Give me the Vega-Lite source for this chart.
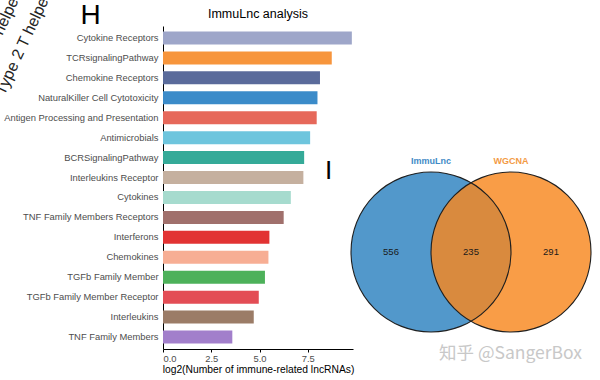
{
  "$schema": "https://vega.github.io/schema/vega-lite/v6.json",
  "width": 190,
  "height": 323,
  "autosize": {"type": "none"},
  "padding": {"left": 163, "top": 26, "right": 247, "bottom": 31},
  "background": "white",
  "config": {
    "view": {"stroke": null},
    "font": "Liberation Sans",
    "axis": {"labelFont": "Liberation Sans", "titleFont": "Liberation Sans"}
  },
  "title": {
    "text": "ImmuLnc analysis",
    "fontSize": 12.5,
    "fontWeight": "normal",
    "font": "Liberation Sans",
    "color": "black",
    "anchor": "middle",
    "frame": "group",
    "offset": -56
  },
  "datasets": {
    "bars": [
      {"category": "Cytokine Receptors", "value": 9.78},
      {"category": "TCRsignalingPathway", "value": 8.74},
      {"category": "Chemokine Receptors", "value": 8.13},
      {"category": "NaturalKiller Cell Cytotoxicity", "value": 8.0},
      {"category": "Antigen Processing and Presentation", "value": 7.96},
      {"category": "Antimicrobials", "value": 7.62},
      {"category": "BCRSignalingPathway", "value": 7.31},
      {"category": "Interleukins Receptor", "value": 7.27},
      {"category": "Cytokines", "value": 6.62},
      {"category": "TNF Family Members Receptors", "value": 6.25},
      {"category": "Interferons", "value": 5.51},
      {"category": "Chemokines", "value": 5.46},
      {"category": "TGFb Family Member", "value": 5.28},
      {"category": "TGFb Family Member Receptor", "value": 4.96},
      {"category": "Interleukins", "value": 4.7},
      {"category": "TNF Family Members", "value": 3.59}
    ],
    "sets": [
      {"set": "ImmuLnc", "size": 791},
      {"set": "WGCNA", "size": 526}
    ],
    "regions": [
      {"region": "ImmuLnc only", "count": 556},
      {"region": "Both", "count": 235},
      {"region": "WGCNA only", "count": 291}
    ],
    "fragments": [
      {"label": "Type 17 T helper cell"},
      {"label": "Type 2 T helper cell"}
    ]
  },
  "layer": [
    {
      "data": {"name": "bars"},
      "mark": {"type": "bar"},
      "encoding": {
        "y": {
          "field": "category",
          "type": "nominal",
          "sort": null,
          "scale": {"paddingInner": 0.35, "paddingOuter": 0.275},
          "axis": {
            "orient": "left",
            "domainColor": "black",
            "domainWidth": 1,
            "ticks": false,
            "labelFontSize": 9.4,
            "labelColor": "#4d4d4d",
            "labelPadding": 5,
            "labelLimit": 0,
            "grid": false,
            "title": "H",
            "titleAngle": 0,
            "titleX": -73,
            "titleY": -11,
            "titleAlign": "center",
            "titleBaseline": "middle",
            "titleFontSize": 28,
            "titleFontWeight": "normal",
            "titleColor": "black"
          }
        },
        "x": {
          "field": "value",
          "type": "quantitative",
          "scale": {"domain": [0, 9.84], "nice": false},
          "axis": {
            "orient": "bottom",
            "values": [0, 2.5, 5, 7.5],
            "format": ".1f",
            "domainColor": "black",
            "domainWidth": 1,
            "tickColor": "black",
            "tickSize": 3,
            "labelFontSize": 9.4,
            "labelColor": "#4d4d4d",
            "labelPadding": 2,
            "grid": false,
            "title": "log2(Number of immune-related lncRNAs)",
            "titleFontSize": 10.3,
            "titleFontWeight": "normal",
            "titleColor": "black",
            "titlePadding": 2
          }
        },
        "color": {
          "field": "category",
          "type": "nominal",
          "scale": {
            "domain": ["Cytokine Receptors", "TCRsignalingPathway", "Chemokine Receptors", "NaturalKiller Cell Cytotoxicity", "Antigen Processing and Presentation", "Antimicrobials", "BCRSignalingPathway", "Interleukins Receptor", "Cytokines", "TNF Family Members Receptors", "Interferons", "Chemokines", "TGFb Family Member", "TGFb Family Member Receptor", "Interleukins", "TNF Family Members"],
            "range": ["#9ea6c9", "#f7953c", "#5a6b9b", "#3b8bc9", "#e6685a", "#6ec5dd", "#35aa98", "#c5b09f", "#a6dbce", "#a0706c", "#e23333", "#f7ae94", "#4db15a", "#e34d55", "#9b7c67", "#a27fcb"]
          },
          "legend": null
        }
      }
    },
    {
      "layer": [
        {
          "data": {"name": "sets"},
          "transform": [{"filter": "datum.set === 'ImmuLnc'"}],
          "mark": {"type": "point", "shape": "circle", "filled": true, "size": 25600, "color": "#5298cb", "opacity": 1, "strokeWidth": 0},
          "encoding": {
            "x": {"field": "set", "type": "nominal",
              "scale": {"type": "point", "domain": ["ImmuLnc only", "ImmuLnc", "Both", "WGCNA", "WGCNA only"], "range": [228, 388], "padding": 0},
              "axis": {"orient": "top", "labels": false, "ticks": false, "domain": false, "grid": false, "title": "知乎 @SangerBox", "titleX": 347, "titleY": 327, "titleFont": "Noto Sans CJK SC", "titleFontSize": 17.5, "titleFontWeight": "normal", "titleColor": "#c8c8c8", "titleAlign": "center", "titleBaseline": "middle", "titleAngle": 0}},
            "y": {"datum": "count", "type": "nominal",
              "scale": {"type": "point", "domain": ["name", "count"], "range": [135, 226], "padding": 0},
              "axis": {"orient": "right", "labels": false, "ticks": false, "domain": false, "grid": false, "title": "I", "titleX": -25, "titleY": 144, "titleFont": "Liberation Sans", "titleFontSize": 26, "titleFontWeight": "normal", "titleColor": "black", "titleAlign": "center", "titleBaseline": "middle", "titleAngle": 0}}
          }
        },
        {
          "data": {"name": "sets"},
          "transform": [{"filter": "datum.set === 'WGCNA'"}],
          "mark": {"type": "point", "shape": "circle", "filled": true, "size": 25600, "color": "#f8871e", "opacity": 0.815, "strokeWidth": 0},
          "encoding": {
            "x": {"field": "set", "type": "nominal"},
            "y": {"datum": "count", "type": "nominal"}
          }
        },
        {
          "data": {"name": "sets"},
          "mark": {"type": "point", "shape": "circle", "filled": false, "size": 25600, "stroke": "#1f1f1f", "strokeWidth": 1.1, "opacity": 1},
          "encoding": {
            "x": {"field": "set", "type": "nominal"},
            "y": {"datum": "count", "type": "nominal"}
          }
        },
        {
          "data": {"name": "sets"},
          "mark": {"type": "text", "fontSize": 9, "fontWeight": "bold", "font": "Liberation Sans", "baseline": "middle"},
          "encoding": {
            "x": {"field": "set", "type": "nominal"},
            "y": {"datum": "name", "type": "nominal"},
            "text": {"field": "set"},
            "color": {"field": "set", "type": "nominal", "scale": {"domain": ["ImmuLnc", "WGCNA"], "range": ["#3f8ac6", "#f39a45"]}, "legend": null}
          }
        },
        {
          "data": {"name": "regions"},
          "mark": {"type": "text", "fontSize": 9.5, "font": "Liberation Sans", "color": "#1a1a1a", "baseline": "middle"},
          "encoding": {
            "x": {"field": "region", "type": "nominal"},
            "y": {"datum": "count", "type": "nominal"},
            "text": {"field": "count"}
          }
        }
      ]
    },
    {
      "data": {"name": "fragments"},
      "mark": {"type": "text", "angle": -65, "align": "right", "baseline": "alphabetic", "fontSize": 16, "font": "Liberation Sans", "color": "#222222"},
      "encoding": {
        "x": {"field": "label", "type": "nominal", "scale": {"type": "point", "domain": ["Type 17 T helper cell", "Type 2 T helper cell"], "range": [-130, -100], "padding": 0}, "axis": null},
        "y": {"field": "label", "type": "nominal", "scale": {"type": "point", "domain": ["Type 17 T helper cell", "Type 2 T helper cell"], "range": [-56, -56], "padding": 0}, "axis": null},
        "text": {"field": "label"}
      }
    }
  ],
  "resolve": {"scale": {"x": "independent", "y": "independent", "color": "independent"}}
}
